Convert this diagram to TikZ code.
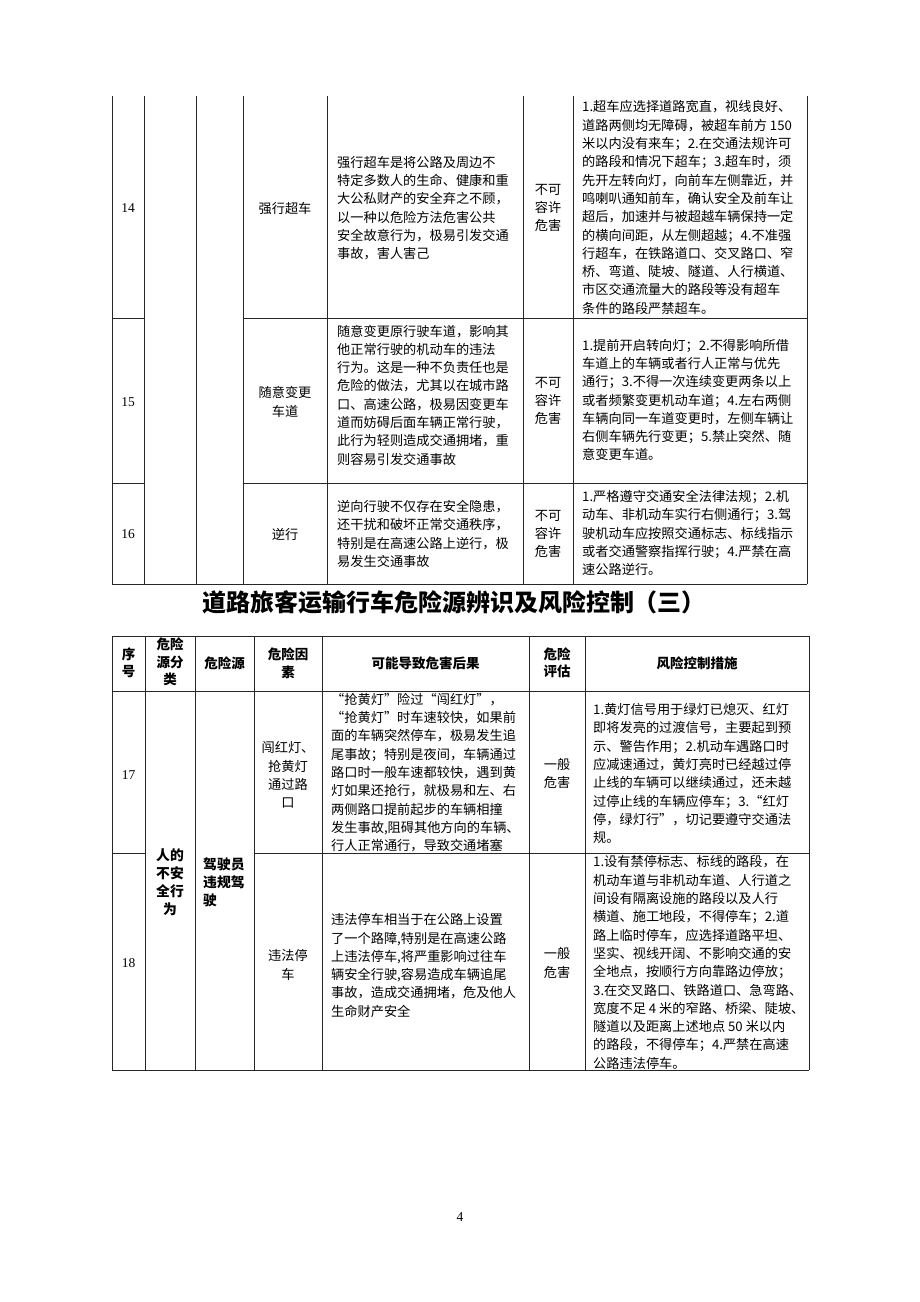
\documentclass[tikz,border=0pt]{standalone}
\usepackage{fontspec}
\setmainfont{Noto Sans CJK SC}
\newfontfamily\serifnum{Liberation Serif}
\begin{document}
\begin{tikzpicture}[x=1pt,y=-1pt,
  grid/.style={line width=0.9pt, draw=black!85},
  body/.style={inner sep=0pt, align=left, anchor=west, font=\fontsize{13.2}{18.3}\selectfont},
  cbody/.style={inner sep=0pt, align=center, font=\fontsize{13.2}{18.3}\selectfont},
  num/.style={inner sep=0pt, font=\serifnum\fontsize{13.5}{16}\selectfont},
  head/.style={inner sep=0pt, align=center, font=\bfseries\fontsize{13.5}{17.5}\selectfont},
  bhead/.style={inner sep=0pt, font=\bfseries\fontsize{13.8}{18}\selectfont}
]
\fill[white] (0,0) rectangle (920,1302);
\useasboundingbox (0,0) rectangle (920,1302);

% ---------- top table (continued) ----------
\foreach \x in {112,144,196,243,327,523,573,807} \draw[grid] (\x,96) -- (\x,584);
\draw[grid] (112,318) -- (144,318) (243,318) -- (807,318);
\draw[grid] (112,483) -- (144,483) (243,483) -- (807,483);
\draw[grid] (112,584) -- (807,584);

\node[num] (n14) at (128,208) {14};
\node[cbody] (f14) at (285,208) {强行超车};
\node[body] (c14) at (337,208) {强行超车是将公路及周边不\\特定多数人的生命、健康和重\\大公私财产的安全弃之不顾，\\以一种以危险方法危害公共\\安全故意行为，极易引发交通\\事故，害人害己};
\node[cbody] (e14) at (548,208) {不可\\容许\\危害};
\node[body] (m14) at (582,207.5) {1.超车应选择道路宽直，视线良好、\\道路两侧均无障碍，被超车前方 150\\米以内没有来车；2.在交通法规许可\\的路段和情况下超车；3.超车时，须\\先开左转向灯，向前车左侧靠近，并\\鸣喇叭通知前车，确认安全及前车让\\超后，加速并与被超越车辆保持一定\\的横向间距，从左侧超越；4.不准强\\行超车，在铁路道口、交叉路口、窄\\桥、弯道、陡坡、隧道、人行横道、\\市区交通流量大的路段等没有超车\\条件的路段严禁超车。};

\node[num] (n15) at (128,402) {15};
\node[cbody] (f15) at (285,402) {随意变更\\车道};
\node[body] (c15) at (337,395) {随意变更原行驶车道，影响其\\他正常行驶的机动车的违法\\行为。这是一种不负责任也是\\危险的做法，尤其以在城市路\\口、高速公路，极易因变更车\\道而妨碍后面车辆正常行驶，\\此行为轻则造成交通拥堵，重\\则容易引发交通事故};
\node[cbody] (e15) at (548,401) {不可\\容许\\危害};
\node[body] (m15) at (582,400) {1.提前开启转向灯；2.不得影响所借\\车道上的车辆或者行人正常与优先\\通行；3.不得一次连续变更两条以上\\或者频繁变更机动车道；4.左右两侧\\车辆向同一车道变更时，左侧车辆让\\右侧车辆先行变更；5.禁止突然、随\\意变更车道。};

\node[num] (n16) at (128,534) {16};
\node[cbody] (f16) at (285,534) {逆行};
\node[body] (c16) at (337,534) {逆向行驶不仅存在安全隐患，\\还干扰和破坏正常交通秩序，\\特别是在高速公路上逆行，极\\易发生交通事故};
\node[cbody] (e16) at (548,534) {不可\\容许\\危害};
\node[body] (m16) at (582,533) {1.严格遵守交通安全法律法规；2.机\\动车、非机动车实行右侧通行；3.驾\\驶机动车应按照交通标志、标线指示\\或者交通警察指挥行驶；4.严禁在高\\速公路逆行。};

% ---------- title ----------
\node[inner sep=0pt, font=\bfseries\fontsize{24}{28}\selectfont] (title) at (454,602) {道路旅客运输行车危险源辨识及风险控制（三）};

% ---------- bottom table ----------
\foreach \x in {112,145,195,254,322,529,585,809} \draw[grid] (\x,636) -- (\x,1070);
\draw[grid] (112,636) -- (809,636);
\draw[grid] (112,691) -- (809,691);
\draw[grid] (112,853) -- (145,853) (254,853) -- (809,853);
\draw[grid] (112,1070) -- (809,1070);

\node[head] (h1) at (128.5,663) {序\\号};
\node[head] (h2) at (170,662) {危险\\源分\\类};
\node[head] (h3) at (224.5,663) {危险源};
\node[head] (h4) at (288,663.5) {危险因\\素};
\node[head] (h5) at (425.5,663) {可能导致危害后果};
\node[head] (h6) at (557,663) {危险\\评估};
\node[head] (h7) at (697,663) {风险控制措施};

\node[num] (n17) at (128.5,775) {17};
\node[bhead, align=center] (cat) at (170,882) {人的\\不安\\全行\\为};
\node[bhead, align=left, anchor=west] (src) at (203,882) {驾驶员\\违规驾\\驶};
\node[cbody] (f17) at (288,775) {闯红灯、\\抢黄灯\\通过路\\口};
\node[body] (c17) at (331,772.5) {“抢黄灯”险过“闯红灯”，\\“抢黄灯”时车速较快，如果前\\面的车辆突然停车，极易发生追\\尾事故；特别是夜间，车辆通过\\路口时一般车速都较快，遇到黄\\灯如果还抢行，就极易和左、右\\两侧路口提前起步的车辆相撞\\发生事故,阻碍其他方向的车辆、\\行人正常通行，导致交通堵塞};
\node[cbody] (e17) at (557,773.5) {一般\\危害};
\node[body] (m17) at (593,773.5) {1.黄灯信号用于绿灯已熄灭、红灯\\即将发亮的过渡信号，主要起到预\\示、警告作用；2.机动车遇路口时\\应减速通过，黄灯亮时已经越过停\\止线的车辆可以继续通过，还未越\\过停止线的车辆应停车；3.“红灯\\停，绿灯行”，切记要遵守交通法\\规。};

\node[num] (n18) at (128.5,963) {18};
\node[cbody] (f18) at (288,965) {违法停\\车};
\node[body] (c18) at (331,965.5) {违法停车相当于在公路上设置\\了一个路障,特别是在高速公路\\上违法停车,将严重影响过往车\\辆安全行驶,容易造成车辆追尾\\事故，造成交通拥堵，危及他人\\生命财产安全};
\node[cbody] (e18) at (557,963) {一般\\危害};
\node[body] (m18) at (593,962.5) {1.设有禁停标志、标线的路段，在\\机动车道与非机动车道、人行道之\\间设有隔离设施的路段以及人行\\横道、施工地段，不得停车；2.道\\路上临时停车，应选择道路平坦、\\坚实、视线开阔、不影响交通的安\\全地点，按顺行方向靠路边停放；\\3.在交叉路口、铁路道口、急弯路、\\宽度不足 4 米的窄路、桥梁、陡坡、\\隧道以及距离上述地点 50 米以内\\的路段，不得停车；4.严禁在高速\\公路违法停车。};

\node[num] (pg) at (460,1217) {4};
\end{tikzpicture}
\end{document}
